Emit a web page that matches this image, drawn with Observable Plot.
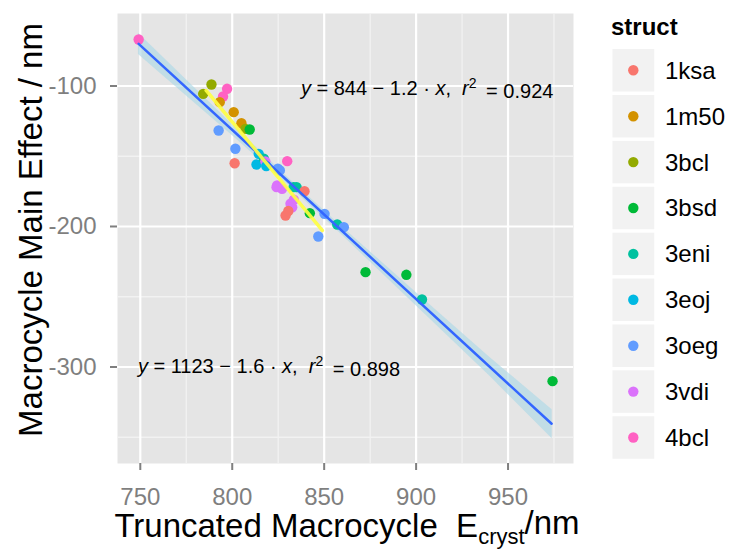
<!DOCTYPE html>
<html><head><meta charset="utf-8">
<script src="https://cdn.jsdelivr.net/npm/d3@7"></script>
<script src="https://cdn.jsdelivr.net/npm/@observablehq/plot@0.6"></script>
<style>body{margin:0;background:#fff;}</style>
</head><body><div id="chart"></div>
<script>
const structs = ["1ksa","1m50","3bcl","3bsd","3eni","3eoj","3oeg","3vdi","4bcl"];
const structColors = ["#F8766D","#D39200","#93AA00","#00BA38","#00C19F","#00B9E3","#619CFF","#DB72FB","#FF61C3"];

const pointStruct = ["4bcl","3bcl","3bcl","4bcl","4bcl","1m50","1m50","1m50","3bcl","3bsd",
  "3oeg","3oeg","1ksa","3eoj","3eoj","3eni","3vdi","3eoj","3oeg","3oeg",
  "4bcl","3vdi","3vdi","3vdi","3eni","3eni","1ksa","3vdi","3vdi","3vdi",
  "1ksa","1ksa","3bsd","3oeg","3oeg","3eni","3oeg","3bsd","3bsd","3eni","3bsd"];
const pointX = [749.1,788.7,784.2,797.2,795.0,793.2,800.8,805.0,807.2,809.5,
  792.6,801.7,801.3,814.4,813.2,817.2,818.0,818.5,824.8,825.9,
  829.9,824.4,827.1,824.1,833.4,835.0,839.3,831.7,833.5,832.6,
  829.0,830.5,842.2,850.2,846.8,857.1,860.7,872.5,894.7,903.2,974.2];
const pointY = [-66.9,-98.9,-105.6,-102.0,-107.5,-111.5,-118.6,-126.5,-130.5,-131.0,
  -131.7,-144.7,-155.0,-148.3,-155.9,-151.8,-153.7,-157.0,-158.9,-160.1,
  -153.5,-170.8,-173.2,-172.0,-172.0,-172.0,-174.9,-183.8,-181.0,-186.3,
  -192.2,-189.0,-190.5,-191.0,-207.1,-198.6,-200.5,-232.5,-234.4,-252.0,-310.1];

const xTicks = [750, 800, 850, 900, 950];
const xMinor = [775, 825, 875, 925, 975];
const yTicks = [-100, -200, -300];
const yMinor = [-150, -250, -350];

const fitAllX = [749.1, 973.7];
const fitAllY = [-70.0, -340.4];
const bandX = [749, 800, 830, 860, 900, 940, 974];
const bandLow = [-77.5, -135.3, -170.0, -206.5, -256.5, -306.5, -351.0];
const bandHigh = [-62.5, -127.3, -164.8, -200.5, -247.0, -293.0, -330.5];
const fitSubX = [785.8, 849.0];
const fitSubY = [-103.2, -202.8];

const eqText = ["y = 844 − 1.2 · x,  r² = 0.924", "y = 1123 − 1.6 · x,  r² = 0.898"];
const eqX = [906, 820];
const eqY = [-102, -300];

const xTitle = ["Truncated Macrocycle  E", "cryst", "/nm"];
const yTitle = "Macrocycle Main Effect / nm";
const legendTitle = "struct";

const idx = a => a.map((_, i) => i);
const FONT = "'Liberation Sans', Arial, sans-serif";

const chart = Plot.plot({
  width: 730, height: 549,
  marginLeft: 117, marginRight: 157, marginTop: 13, marginBottom: 86,
  x: {domain: [737.6, 985.6]},
  y: {domain: [-368.7, -48.4]},
  color: {domain: structs, range: structColors},
  style: {fontFamily: FONT, background: "#fff"},
  marks: [
    Plot.frame({fill: "#E5E5E5", stroke: null}),
    Plot.gridX(xMinor, {stroke: "#F2F2F2", strokeOpacity: 1, strokeWidth: 1.3}),
    Plot.gridY(yMinor, {stroke: "#F2F2F2", strokeOpacity: 1, strokeWidth: 1.3}),
    Plot.gridX(xTicks, {stroke: "#FFFFFF", strokeOpacity: 1, strokeWidth: 2.2}),
    Plot.gridY(yTicks, {stroke: "#FFFFFF", strokeOpacity: 1, strokeWidth: 2.2}),
    Plot.axisX(xTicks, {tickSize: 7, tickPadding: 17, color: "#7F7F7F", strokeWidth: 2, fontSize: 24, label: null}),
    Plot.axisY(yTicks, {tickSize: 7, tickPadding: 14, color: "#7F7F7F", strokeWidth: 2, fontSize: 24, label: null, tickFormat: d => d < 0 ? "-" + Math.abs(d) : String(d)}),
    Plot.areaY(idx(bandX), {x: i => bandX[i], y1: i => bandLow[i], y2: i => bandHigh[i], fill: "#ADD8E6", fillOpacity: 0.65}),
    Plot.dot(idx(pointX), {x: i => pointX[i], y: i => pointY[i], fill: i => pointStruct[i], r: 5.2}),
    Plot.line(idx(fitAllX), {x: i => fitAllX[i], y: i => fitAllY[i], stroke: "#3366FF", strokeWidth: 2.5}),
    Plot.line(idx(fitSubX), {x: i => fitSubX[i], y: i => fitSubY[i], stroke: "#FFFF40", strokeWidth: 3.5, strokeOpacity: 0.9}),
    Plot.text(idx(eqText), {x: i => eqX[i], y: i => eqY[i], text: i => eqText[i], fill: "#000", fontSize: 20, textAnchor: "middle"})
  ]
});

const svg = d3.select(chart);

// style equations: italic variables, superscript 2
svg.selectAll("text").filter(function() { return this.textContent.startsWith("y = "); }).each(function() {
  const s = this.textContent;
  const t = d3.select(this).style("white-space", "pre");
  t.text(null);
  let buf = "";
  let sup = false;
  const flush = () => {
    if (buf) {
      const ts = t.append("tspan").text(buf);
      if (sup) { ts.attr("dy", "0.5em").attr("dx", "0.2em"); sup = false; }
      buf = "";
    }
  };
  for (const ch of s) {
    if (ch === "y" || ch === "x" || ch === "r") {
      flush();
      t.append("tspan").attr("font-style", "italic").text(ch);
    } else if (ch === "²") {
      flush();
      t.append("tspan").attr("dy", "-0.5em").attr("font-size", "14px").text("2");
      sup = true;
    } else buf += ch;
  }
  flush();
});

// axis titles
const xt = svg.append("text")
  .attr("x", 347).attr("y", 537)
  .attr("text-anchor", "middle")
  .attr("font-size", 33).attr("fill", "#000")
  .attr("font-family", FONT);
xt.append("tspan").text(xTitle[0]);
xt.append("tspan").attr("dy", "0.3em").attr("font-size", 22).text(xTitle[1]);
xt.append("tspan").attr("dy", "-0.3em").text(xTitle[2]);

svg.append("text")
  .attr("transform", "translate(42,230) rotate(-90)")
  .attr("text-anchor", "middle")
  .attr("font-size", 33).attr("fill", "#000")
  .attr("font-family", FONT)
  .text(yTitle);

// legend
const lg = svg.append("g").attr("font-family", FONT).attr("text-anchor", "start");
lg.append("text").attr("x", 611).attr("y", 35).attr("font-size", 24).attr("font-weight", "bold").attr("fill", "#000").text(legendTitle);
structs.forEach((s, i) => {
  const y0 = 48.3 + i * 45.9;
  lg.append("rect").attr("x", 611.7).attr("y", y0).attr("width", 43.3).attr("height", 44)
    .attr("fill", "#F2F2F2").attr("stroke", "#fff").attr("stroke-width", 1.5);
  lg.append("circle").attr("cx", 633.3).attr("cy", y0 + 22).attr("r", 5.2).attr("fill", structColors[i]);
  lg.append("text").attr("x", 665).attr("y", y0 + 22).attr("dy", "0.35em").attr("font-size", 24).attr("fill", "#000").text(s);
});

document.getElementById("chart").appendChild(chart);
</script>
</body></html>
